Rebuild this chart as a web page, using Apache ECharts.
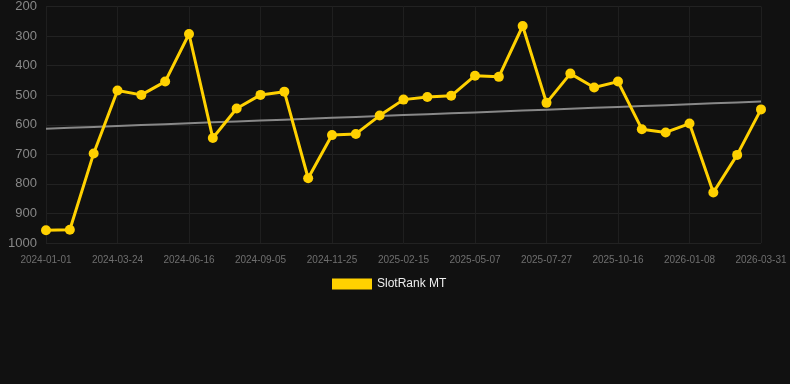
<!DOCTYPE html>
<html>
<head>
<meta charset="utf-8">
<script src="https://cdn.jsdelivr.net/npm/echarts@6/dist/echarts.min.js"></script>
<style>
html,body{margin:0;padding:0;background:#111111;}
#chart{width:790px;height:384px;}
</style>
</head>
<body>
<div id="chart"></div>
<script>
const dates = [
  '2024-01-01','2024-01-28','2024-02-25','2024-03-24','2024-04-21','2024-05-19',
  '2024-06-16','2024-07-13','2024-08-09','2024-09-05','2024-10-02','2024-10-29',
  '2024-11-25','2024-12-22','2025-01-19','2025-02-15','2025-03-13','2025-04-10',
  '2025-05-07','2025-06-03','2025-06-30','2025-07-27','2025-08-23','2025-09-19',
  '2025-10-16','2025-11-12','2025-12-11','2026-01-08','2026-02-04','2026-03-03',
  '2026-03-31'
];
const rankValues = [
  957, 955, 697, 484, 499, 454, 293, 645, 545, 499, 488,
  781, 635, 631, 569, 515, 506, 502, 434, 438, 266,
  526, 427, 474, 454, 615, 626, 596, 829, 702, 548
];
const seriesName = 'SlotRank MT';
const yTicks = { min: 200, max: 1000, interval: 100 };

// Linear regression trend derived from the series
const n = rankValues.length;
let sx = 0, sy = 0, sxy = 0, sxx = 0;
rankValues.forEach((v, i) => { sx += i; sy += v; sxy += i * v; sxx += i * i; });
const slope = (n * sxy - sx * sy) / (n * sxx - sx * sx);
const intercept = (sy - slope * sx) / n;
const trend = rankValues.map((_, i) => +(intercept + slope * i).toFixed(2));

const chart = echarts.init(document.getElementById('chart'), null, { renderer: 'canvas' });
chart.setOption({
  backgroundColor: '#111111',
  animation: false,
  grid: { left: 46, right: 29, top: 6, bottom: 141, containLabel: false },
  legend: {
    data: [seriesName],
    bottom: 94,
    left: 332,
    padding: 0,
    itemWidth: 40,
    itemHeight: 11,
    itemGap: 10,
    icon: 'rect',
    textStyle: { color: '#eeeeee', fontSize: 12, fontFamily: 'Arial, Liberation Sans, sans-serif' }
  },
  xAxis: {
    type: 'category',
    data: dates,
    boundaryGap: false,
    axisLine: { show: false },
    axisTick: { show: false },
    axisLabel: { interval: 2, color: '#6f6f6f', fontSize: 10, margin: 12, fontFamily: 'Arial, Liberation Sans, sans-serif' },
    splitLine: { show: true, interval: 2, lineStyle: { color: '#1f1f1f', width: 1 } }
  },
  yAxis: {
    type: 'value',
    inverse: true,
    min: yTicks.min,
    max: yTicks.max,
    interval: yTicks.interval,
    axisLine: { show: false },
    axisTick: { show: false },
    axisLabel: {
      color: '#888888', fontSize: 13, margin: 9,
      fontFamily: 'Arial, Liberation Sans, sans-serif',
      formatter: function (v) { return String(v); }
    },
    splitLine: { show: true, lineStyle: { color: '#222222', width: 1 } }
  },
  series: [
    {
      name: seriesName,
      type: 'line',
      data: rankValues,
      color: '#FFD100',
      lineStyle: { color: '#FFD100', width: 3 },
      itemStyle: { color: '#FFD100' },
      symbol: 'circle',
      symbolSize: 10,
      showSymbol: true,
      z: 3
    },
    {
      name: 'trend',
      type: 'line',
      data: trend,
      symbol: 'none',
      lineStyle: { color: '#888888', width: 2 },
      z: 2,
      silent: true
    }
  ]
});
</script>
</body>
</html>
